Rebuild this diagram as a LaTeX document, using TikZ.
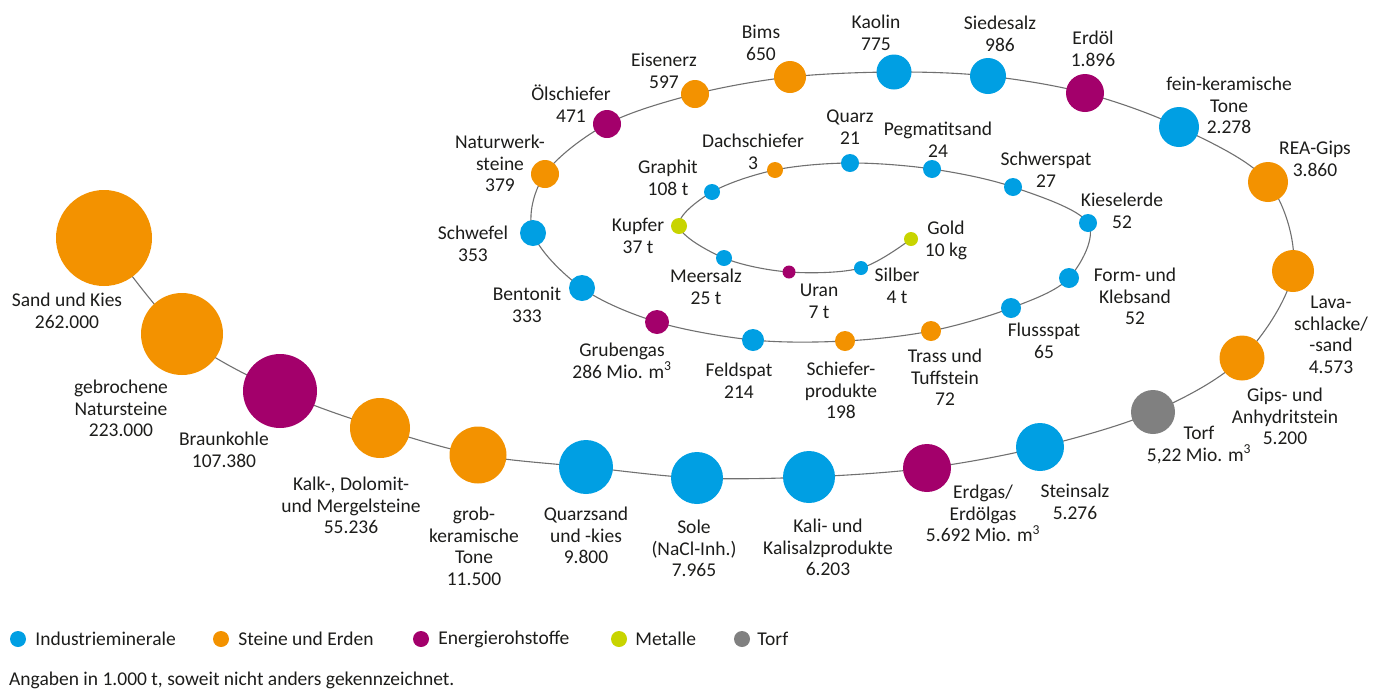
\documentclass[tikz,border=0pt]{standalone}
\usepackage{fontspec}
\setmainfont{Carlito}
\usepackage{tikz}
\usetikzlibrary{positioning,backgrounds}
\definecolor{indublue}{HTML}{009FE3}
\definecolor{steinorange}{HTML}{F39200}
\definecolor{energiepurple}{HTML}{A3006B}
\definecolor{metallgreen}{HTML}{C8D400}
\definecolor{torfgray}{HTML}{808080}
\definecolor{linegray}{HTML}{707070}
\definecolor{ink}{HTML}{1D1D1B}
\newcommand{\cubic}{m\textsuperscript{3}}
\tikzset{
    ball/.style = {circle, inner sep=0pt, draw=none, minimum size=#1},
    indu/.style = {ball=#1, fill=indublue},
    stein/.style = {ball=#1, fill=steinorange},
    energie/.style = {ball=#1, fill=energiepurple},
    metall/.style = {ball=#1, fill=metallgreen},
    torfball/.style = {ball=#1, fill=torfgray},
    lbl/.style = {align=center, anchor=north, inner sep=0pt, text=ink, font=\fontsize{19.5}{21.5}\selectfont},
    legtext/.style = {inner sep=0pt, text=ink, font=\fontsize{19.5}{21.5}\selectfont},
    spiral/.style = {linegray, line width=1.1pt}
}
\begin{document}
\begin{tikzpicture}[x=1pt, y=-1pt]
\useasboundingbox (0,0) rectangle (1384,689);
\node (sand) [stein=96] at (104,238) {};
\node (natur) [stein=82] at (182,334) {};
\node (braun) [energie=74] at (280,391) {};
\node (kalk) [stein=60] at (380,428) {};
\node (grob) [stein=57] at (478,455) {};
\node (quarzsand) [indu=54] at (586,467) {};
\node (sole) [indu=52] at (697,478) {};
\node (kali) [indu=52] at (809,477) {};
\node (erdgas) [energie=48] at (927,468) {};
\node (steinsalz) [indu=48] at (1040,447) {};
\node (torf) [torfball=44] at (1153,412) {};
\node (gips) [stein=45] at (1242,358) {};
\node (lava) [stein=42] at (1293,271) {};
\node (rea) [stein=40] at (1268,182) {};
\node (fein) [indu=40] at (1179,127) {};
\node (erdoel) [energie=38] at (1085,93) {};
\node (siede) [indu=36] at (988,76) {};
\node (kaolin) [indu=35] at (894,72) {};
\node (bims) [stein=32] at (790,77) {};
\node (eisen) [stein=28] at (695,94) {};
\node (oel) [energie=28] at (607,124) {};
\node (nws) [stein=28] at (545,174) {};
\node (schwefel) [indu=26] at (533,233) {};
\node (bento) [indu=26] at (582,288) {};
\node (gruben) [energie=24] at (657,322) {};
\node (feld) [indu=22] at (753,340) {};
\node (schiefer) [stein=20] at (845,341) {};
\node (trass) [stein=20] at (931,331) {};
\node (fluss) [indu=20] at (1011,308) {};
\node (form) [indu=20] at (1069,278) {};
\node (kiesel) [indu=18] at (1088,223) {};
\node (schwer) [indu=18] at (1013,187) {};
\node (pegma) [indu=18] at (932,169) {};
\node (quarz) [indu=18] at (850,163) {};
\node (dach) [stein=16] at (775,170) {};
\node (graphit) [indu=16] at (712,192) {};
\node (kupfer) [metall=16] at (679,226) {};
\node (meer) [indu=16] at (724,258) {};
\node (uran) [energie=13] at (789,272) {};
\node (silber) [indu=14] at (861,268) {};
\node (gold) [metall=14] at (911,239) {};

\begin{pgfonlayer}{background}
\draw [spiral] plot [smooth, tension=0.55] coordinates {(sand) (natur) (braun) (kalk) (grob) (quarzsand) (sole) (kali) (erdgas) (steinsalz) (torf) (gips) (lava) (rea) (fein) (erdoel) (siede) (kaolin) (bims) (eisen) (oel) (nws) (schwefel) (bento) (gruben) (feld) (schiefer) (trass) (fluss) (form) (kiesel) (schwer) (pegma) (quarz) (dach) (graphit) (kupfer) (meer) (uran) (silber) (gold)};
\end{pgfonlayer}

\node (sandlab) [lbl] at (67,293) {Sand und Kies\\262.000};
\node (naturlab) [lbl] at (121,380) {gebrochene\\Natursteine\\223.000};
\node (braunlab) [lbl] at (224,432) {Braunkohle\\107.380};
\node (kalklab) [lbl] at (351,477) {Kalk-, Dolomit-\\und Mergelsteine\\55.236};
\node (groblab) [lbl] at (474,507) {grob-\\keramische\\Tone\\11.500};
\node (quarzsandlab) [lbl] at (586,507) {Quarzsand\\und -kies\\9.800};
\node (solelab) [lbl] at (694,520) {Sole\\(NaCl-Inh.)\\7.965};
\node (kalilab) [lbl] at (828,519) {Kali- und\\Kalisalzprodukte\\6.203};
\node (erdgaslab) [lbl] at (983,485) {Erdgas/\\Erdölgas\\5.692 Mio. \cubic};
\node (steinsalzlab) [lbl] at (1075,484) {Steinsalz\\5.276};
\node (torflab) [lbl] at (1199,426) {Torf\\5,22 Mio. \cubic};
\node (gipslab) [lbl] at (1285,388) {Gips- und\\Anhydritstein\\5.200};
\node (lavalab) [lbl] at (1331,296) {Lava-\\schlacke/\\-sand\\4.573};
\node (realab) [lbl] at (1315,141) {REA-Gips\\3.860};
\node (feinlab) [lbl] at (1229,77) {fein-keramische\\Tone\\2.278};
\node (erdoellab) [lbl] at (1093,31) {Erdöl\\1.896};
\node (siedelab) [lbl] at (1000,16) {Siedesalz\\986};
\node (kaolinlab) [lbl] at (876,15) {Kaolin\\775};
\node (bimslab) [lbl] at (761,25) {Bims\\650};
\node (eisenlab) [lbl] at (664,53) {Eisenerz\\597};
\node (oellab) [lbl] at (571,85) {Ölschiefer\\471};
\node (nwslab) [lbl] at (500,135) {Naturwerk-\\steine\\379};
\node (schwefellab) [lbl] at (473,226) {Schwefel\\353};
\node (bentolab) [lbl] at (527,287) {Bentonit\\333};
\node (grubenlab) [lbl] at (622,343) {Grubengas\\286 Mio. \cubic};
\node (feldlab) [lbl] at (739,363) {Feldspat\\214};
\node (schieferlab) [lbl] at (841,362) {Schiefer-\\produkte\\198};
\node (trasslab) [lbl] at (945,349) {Trass und\\Tuffstein\\72};
\node (flusslab) [lbl] at (1044,323) {Flussspat\\65};
\node (formlab) [lbl] at (1135,268) {Form- und\\Klebsand\\52};
\node (kiesellab) [lbl] at (1122,193) {Kieselerde\\52};
\node (schwerlab) [lbl] at (1046,152) {Schwerspat\\27};
\node (pegmalab) [lbl] at (938,122) {Pegmatitsand\\24};
\node (quarzlab) [lbl] at (850,110) {Quarz\\21};
\node (dachlab) [lbl] at (753,134) {Dachschiefer\\3};
\node (graphitlab) [lbl] at (668,160) {Graphit\\108 t};
\node (kupferlab) [lbl] at (638,218) {Kupfer\\37 t};
\node (meerlab) [lbl] at (706,269) {Meersalz\\25 t};
\node (uranlab) [lbl] at (819,284) {Uran\\7 t};
\node (silberlab) [lbl] at (897,268) {Silber\\4 t};
\node (goldlab) [lbl] at (946,221) {Gold\\10 kg};

\node (legindu) [indu=16] at (18,639) {};
\node (legindutext) [legtext, right=9pt of legindu] {Industrieminerale};
\node (legstein) [stein=16] at (221,639) {};
\node (legsteintext) [legtext, right=9pt of legstein] {Steine und Erden};
\node (legenergie) [energie=16] at (421,639) {};
\node (legenergietext) [legtext, right=9pt of legenergie] {Energierohstoffe};
\node (legmetall) [metall=16] at (619,639) {};
\node (legmetalltext) [legtext, right=8pt of legmetall] {Metalle};
\node (legtorf) [torfball=16] at (742,639) {};
\node (legtorftext) [legtext, right=7pt of legtorf] {Torf};
\node (note) [legtext, anchor=west] at (9,680) {Angaben in 1.000 t, soweit nicht anders gekennzeichnet.};
\end{tikzpicture}
\end{document}
